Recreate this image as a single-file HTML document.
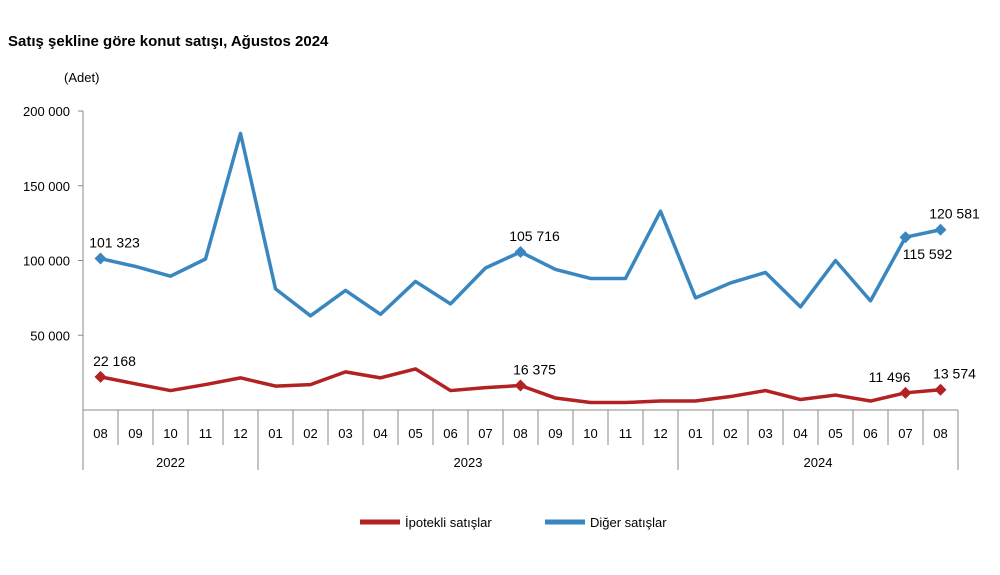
<!DOCTYPE html>
<html><head><meta charset="utf-8"><style>
body{margin:0;background:#fff;font-family:"Liberation Sans",sans-serif}
svg text{font-family:"Liberation Sans",sans-serif;fill:#000}
</style></head><body>
<svg width="1000" height="570" xmlns="http://www.w3.org/2000/svg">
<text x="8" y="46" font-size="15" font-weight="bold">Satış şekline göre konut satışı, Ağustos 2024</text>
<text x="64" y="82" font-size="13">(Adet)</text>
<g id="axes"></g>
<g id="series"></g>
<g>
<line x1="360" y1="522" x2="400" y2="522" stroke="#B22222" stroke-width="5"/>
<text x="405" y="527" font-size="13">İpotekli satışlar</text>
<line x1="545" y1="522" x2="585" y2="522" stroke="#3A87C0" stroke-width="5"/>
<text x="590" y="527" font-size="13">Diğer satışlar</text>
</g>
</svg>
<script>
const months=["08","09","10","11","12","01","02","03","04","05","06","07","08","09","10","11","12","01","02","03","04","05","06","07","08"];
const years=[["2022",0,4],["2023",5,16],["2024",17,24]];
const diger=[101323,96000,89500,101000,185000,81000,63000,80000,64000,86000,71000,95000,105716,94000,88000,88000,133000,75000,85000,92000,69000,100000,73000,115592,120581];
const ipotekli=[22168,17500,13000,17000,21500,16000,17000,25500,21500,27500,13000,15000,16375,8000,5000,5000,6000,6000,9000,13000,7000,10000,6000,11496,13574];
const yTicks=[50000,100000,150000,200000];
const labeledIdx=[0,12,23,24];
const NS="http://www.w3.org/2000/svg";
const x0=83,x1=958,y0=410,y200=111;
const step=(x1-x0)/months.length;
const X=i=>x0+step*(i+0.5);
const Y=v=>y0-(v/200000)*(y0-y200);
const fmt=v=>String(v).replace(/\B(?=(\d{3})+(?!\d))/g," ");
function mk(tag,attrs,parent,text){const e=document.createElementNS(NS,tag);for(const k in attrs)e.setAttribute(k,attrs[k]);if(text!=null)e.textContent=text;parent.appendChild(e);return e;}
const ax=document.getElementById("axes");
let e=mk("line",{x1:x0,y1:y200,x2:x0,y2:y0,stroke:"#888"},ax);


e=mk("line",{x1:x0,y1:y0,x2:x1,y2:y0,stroke:"#888"},ax);


yTicks.forEach(t=>{
 mk("line",{x1:x0-5,y1:Y(t),x2:x0,y2:Y(t),stroke:"#888"},ax);
 e=mk("text",{x:x0-13,y:Y(t)+5,"font-size":13,"text-anchor":"end"},ax,fmt(t));
 
 
});
for(let i=0;i<=months.length;i++){mk("line",{x1:x0+step*i,y1:y0,x2:x0+step*i,y2:y0+35,stroke:"#888"},ax);}
months.forEach((m,i)=>{
 e=mk("text",{x:X(i),y:y0+28,"font-size":13,"text-anchor":"middle"},ax,m);
 
 
});
years.forEach(([yr,a,b])=>{
 mk("line",{x1:x0+step*a,y1:y0+35,x2:x0+step*a,y2:y0+60,stroke:"#888"},ax);
 mk("line",{x1:x0+step*(b+1),y1:y0+35,x2:x0+step*(b+1),y2:y0+60,stroke:"#888"},ax);
 e=mk("text",{x:(X(a)+X(b))/2,y:y0+57,"font-size":13,"text-anchor":"middle"},ax,yr);
 
 
});
const sg=document.getElementById("series");
function draw(data,color,name,labelPos){
 e=mk("polyline",{points:data.map((v,i)=>X(i)+","+Y(v)).join(" "),fill:"none",stroke:color,"stroke-width":3.5,"stroke-linejoin":"round"},sg);
 
 
 labeledIdx.forEach(i=>{
  const cx=X(i),cy=Y(data[i]);
  e=mk("polygon",{points:`${cx},${cy-6} ${cx+6},${cy} ${cx},${cy+6} ${cx-6},${cy}`,fill:color},sg);
  
  
  const [dx,dy]=labelPos(i);
  e=mk("text",{x:cx+dx,y:cy+dy,"font-size":14,"text-anchor":"middle"},sg,fmt(data[i]));
  
  
 });
}
draw(diger,"#3A87C0","diger",i=>i===23?[22,22]:[14,-11]);
draw(ipotekli,"#B22222","ipotekli",i=>i===23?[-16,-11]:[14,-11]);
</script>
</body></html>
